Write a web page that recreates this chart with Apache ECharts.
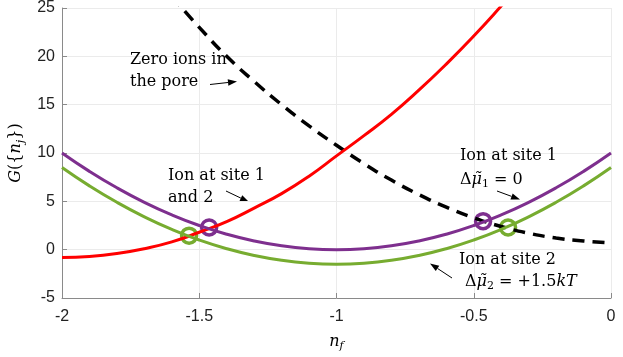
<!DOCTYPE html>
<html>
<head>
<meta charset="utf-8">
<script src="https://cdn.jsdelivr.net/npm/echarts@6/dist/echarts.min.js"></script>
<style>
  html, body { margin: 0; padding: 0; background: #fff; }
  #chart { width: 623px; height: 357px; }
</style>
</head>
<body>
<div id="chart"></div>
<script>
// n_f sample points
var nf = [-2, -1.9, -1.8, -1.7, -1.6, -1.5, -1.4, -1.3, -1.2, -1.1, -1, -0.9, -0.8, -0.7, -0.6, -0.5, -0.4, -0.3, -0.2, -0.1, 0];

// energies
var site1 = [10, 8.1, 6.4, 4.9, 3.6, 2.5, 1.6, 0.9, 0.4, 0.1, 0, 0.1, 0.4, 0.9, 1.6, 2.5, 3.6, 4.9, 6.4, 8.1, 10];
var site2 = [8.5, 6.6, 4.9, 3.4, 2.1, 1.0, 0.1, -0.6, -1.1, -1.4, -1.5, -1.4, -1.1, -0.6, 0.1, 1.0, 2.1, 3.4, 4.9, 6.6, 8.5];
var both = [-0.8, -0.7, -0.4, 0.1, 0.8, 1.8, 2.9, 4.3, 5.8, 7.6, 9.7, 11.8, 14.0, 16.5, 19.2, 22.1, 25.2, 28.4];
var zero = [null, null, null, null, 26.2, 23.0, 20.0, 17.4, 15.0, 12.8, 10.8, 8.9, 7.2, 5.7, 4.4, 3.3, 2.4, 1.7, 1.2, 0.9, 0.7];

// crossing markers
var purpleCross = [[-1.464, 2.3], [-0.466, 2.95]];
var greenCross = [[-1.537, 1.45], [-0.375, 2.3]];

var xTicks = [-2, -1.5, -1, -0.5, 0];
var yTicks = [-5, 0, 5, 10, 15, 20, 25];

function pairs(xs, ys) {
  var out = [];
  for (var i = 0; i < ys.length; i++) {
    if (ys[i] !== null) out.push([xs[i], ys[i]]);
  }
  return out;
}

var PURPLE = "#7E2F8E";
var GREEN = "#77AC30";
var RED = "#FF0000";
var serif = "DejaVu Serif";

function arrow(x1, y1, x2, y2) {
  var a = Math.atan2(y2 - y1, x2 - x1);
  var L = 9, W = 3.2;
  var bx = x2 - L * Math.cos(a), by = y2 - L * Math.sin(a);
  return {
    type: "group",
    children: [
      { type: "line", shape: { x1: x1, y1: y1, x2: bx, y2: by }, style: { stroke: "#000", lineWidth: 1 } },
      {
        type: "polygon",
        shape: { points: [[x2, y2], [bx + W * Math.sin(a), by - W * Math.cos(a)], [bx - W * Math.sin(a), by + W * Math.cos(a)]] },
        style: { fill: "#000" }
      }
    ]
  };
}

var mathRich = {
  i: { fontFamily: serif, fontStyle: "italic", fontSize: 16, lineHeight: 20, color: "#000" },
  r: { fontFamily: serif, fontSize: 16, lineHeight: 20, color: "#000" },
  s: { fontFamily: serif, fontSize: 11, lineHeight: 11, verticalAlign: "bottom", color: "#000" },
  si: { fontFamily: serif, fontStyle: "italic", fontSize: 11, lineHeight: 11, verticalAlign: "bottom", color: "#000" }
};

function label(x, y, text, rich) {
  return {
    type: "text",
    left: x, top: y - 10,
    z: 100,
    style: {
      text: text,
      font: "16px '" + serif + "'",
      fill: "#000",
      rich: rich || {}
    }
  };
}

var myChart = echarts.init(document.getElementById("chart"));
var option = {
  animation: false,
  backgroundColor: "#fff",
  grid: { left: 62, right: 12, top: 8, bottom: 57 },
  xAxis: {
    type: "value",
    min: -2, max: 0, interval: 0.5,
    name: "{i|n}{si|f}",
    nameLocation: "middle",
    nameGap: 34,
    nameTextStyle: { rich: mathRich, color: "#000", fontFamily: serif, fontSize: 16 },
    axisLine: { onZero: false, lineStyle: { color: "#8a8a8a" } },
    axisTick: { inside: true, length: 5, lineStyle: { color: "#8a8a8a" } },
    axisLabel: {
      margin: 11, color: "#222", fontSize: 16, fontFamily: "Liberation Sans",
      formatter: function (v) { return xTicks.indexOf(v) >= 0 ? String(v) : ""; }
    },
    splitLine: { show: true, lineStyle: { color: "#ebebeb" } }
  },
  yAxis: {
    type: "value",
    min: -5, max: 25, interval: 5,
    name: "{i|G}({{i|n}{si|j}})",
    nameLocation: "middle",
    nameGap: 25,
    nameTextStyle: { rich: mathRich, color: "#000", fontFamily: serif, fontSize: 16 },
    axisLine: { show: true, onZero: false, lineStyle: { color: "#8a8a8a" } },
    axisTick: { show: true, inside: true, length: 5, lineStyle: { color: "#8a8a8a" } },
    axisLabel: {
      margin: 7, color: "#222", fontSize: 16, fontFamily: "Liberation Sans",
      formatter: function (v) { return yTicks.indexOf(v) >= 0 ? String(v) : ""; }
    },
    splitLine: { show: true, lineStyle: { color: "#ebebeb" } }
  },
  series: [
    {
      name: "zero", type: "line", data: pairs(nf, zero), smooth: true, symbol: "none",
      lineStyle: { color: "#000", width: 3.5, type: [12, 8] }
    },
    {
      name: "both", type: "line", data: pairs(nf, both), smooth: true, symbol: "none",
      lineStyle: { color: RED, width: 3 }
    },
    {
      name: "site1", type: "line", data: pairs(nf, site1), smooth: true, symbol: "none",
      lineStyle: { color: PURPLE, width: 3 }
    },
    {
      name: "site2", type: "line", data: pairs(nf, site2), smooth: true, symbol: "none",
      lineStyle: { color: GREEN, width: 3 }
    },
    {
      type: "scatter", data: purpleCross, symbol: "circle", symbolSize: 15,
      itemStyle: { color: "rgba(0,0,0,0)", borderColor: PURPLE, borderWidth: 3.5, opacity: 1 }
    },
    {
      type: "scatter", data: greenCross, symbol: "circle", symbolSize: 15,
      itemStyle: { color: "rgba(0,0,0,0)", borderColor: GREEN, borderWidth: 3.5, opacity: 1 }
    }
  ],
  graphic: [
    label(130, 62, "Zero ions in"),
    label(130, 84, "the pore"),
    arrow(210, 84.5, 237, 81.5),
    label(168, 178, "Ion at site 1"),
    label(168, 200, "and 2"),
    arrow(226, 191, 249, 202),
    label(460, 158, "Ion at site 1"),
    label(460, 182, "{r|Δ}{i|μ̃}{s|1}{r| = 0}", mathRich),
    arrow(497, 191, 520, 199.5),
    label(459, 262, "Ion at site 2"),
    label(465, 284, "{r|Δ}{i|μ̃}{s|2}{r| = +1.5}{i|kT}", mathRich),
    arrow(452, 278, 430, 263.5)
  ]
};
myChart.setOption(option);
</script>
</body>
</html>
